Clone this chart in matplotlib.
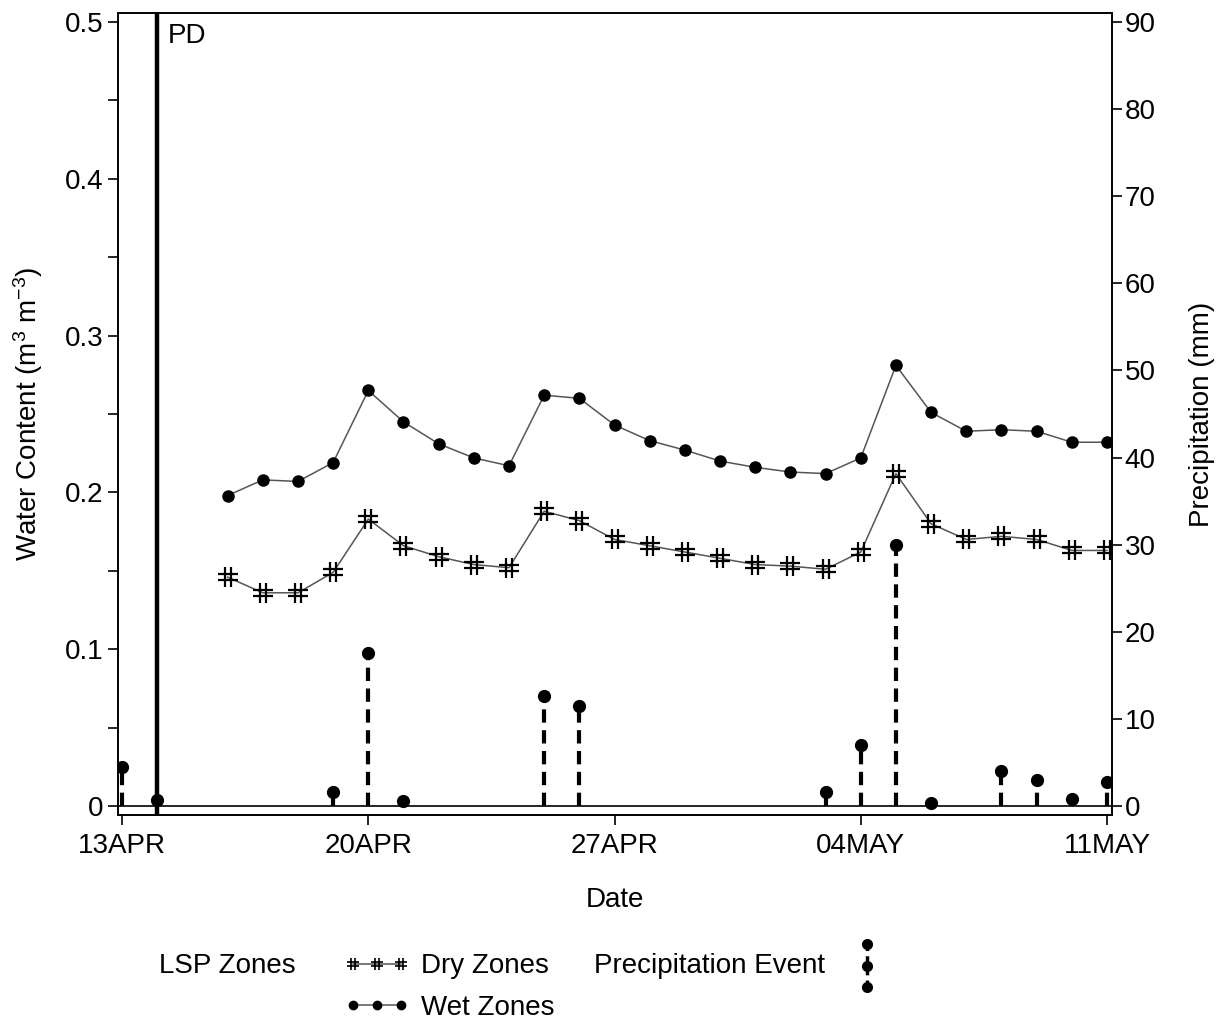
import numpy as np
import pandas as pd
import matplotlib
matplotlib.use("Agg")
import matplotlib.pyplot as plt
import matplotlib.dates as mdates
from matplotlib.path import Path
from matplotlib.lines import Line2D

plt.rcParams['font.family'] = ['Liberation Sans', 'DejaVu Sans']
plt.rcParams['mathtext.default'] = 'regular'

# data
zone_dates = pd.date_range('2015-04-16', '2015-05-11', freq='D')
dry_zones = [0.146, 0.136, 0.136, 0.149, 0.183, 0.166, 0.159, 0.154, 0.152,
             0.188, 0.182, 0.170, 0.166, 0.162, 0.158, 0.154, 0.153, 0.151,
             0.162, 0.212, 0.180, 0.170, 0.172, 0.170, 0.163, 0.163]
wet_zones = [0.198, 0.208, 0.207, 0.219, 0.265, 0.245, 0.231, 0.222, 0.217,
             0.262, 0.260, 0.243, 0.233, 0.227, 0.220, 0.216, 0.213, 0.212,
             0.222, 0.281, 0.251, 0.239, 0.240, 0.239, 0.232, 0.232]

precip_dates = pd.to_datetime(['2015-04-13', '2015-04-14', '2015-04-19', '2015-04-20',
                               '2015-04-21', '2015-04-25', '2015-04-26', '2015-05-03',
                               '2015-05-04', '2015-05-05', '2015-05-06', '2015-05-08',
                               '2015-05-09', '2015-05-10', '2015-05-11'])
precip_mm = [4.5, 0.7, 1.6, 17.6, 0.6, 12.6, 11.5, 1.6, 7.0, 30.0, 0.3, 4.0, 3.0, 0.8, 2.8]

pd_date = pd.Timestamp('2015-04-14')
tick_dates = pd.to_datetime(['2015-04-13', '2015-04-20', '2015-04-27', '2015-05-04', '2015-05-11'])
tick_labels = ['13APR', '20APR', '27APR', '04MAY', '11MAY']

FS = 20

# hash marker
hash_marker = Path(
    [(-0.3, -1), (-0.3, 1), (0.3, -1), (0.3, 1),
     (-1, -0.3), (1, -0.3), (-1, 0.3), (1, 0.3)],
    [Path.MOVETO, Path.LINETO] * 4)

fig = plt.figure(figsize=(12.26, 10.23), dpi=100)
ax = fig.add_axes([0.0963, 0.2033, 0.8107, 0.7840])
ax2 = ax.twinx()

x0 = mdates.date2num(tick_dates[0]) - 0.114
x1 = mdates.date2num(tick_dates[-1]) + 0.142
ylo, yhi = -0.0057, 0.5057

ax.plot(zone_dates, dry_zones, color='#555555', lw=1.1, marker=hash_marker,
        markersize=15, markeredgecolor='black', markerfacecolor='none',
        markeredgewidth=1.6, zorder=3)
ax.plot(zone_dates, wet_zones, color='#555555', lw=1.1, marker='o',
        markersize=8, markeredgecolor='black', markerfacecolor='black', zorder=3)
ax.axhline(0, color='black', lw=1.2, zorder=2)
ax.axvline(pd_date, color='black', lw=3.2, zorder=4)
ax.text(mdates.date2num(pd_date) + 0.3, 0.499, 'PD', fontsize=FS, va='top', ha='left')

ax2.vlines(precip_dates, 0, precip_mm, colors='black', lw=3,
           linestyles=(0, (3.2, 1.8)), zorder=3)
ax2.plot(precip_dates, precip_mm, 'o', color='black', markersize=8.5, zorder=4)

ax.set_xlim(x0, x1)
ax.set_ylim(ylo, yhi)
ax2.set_ylim(ylo * 180, yhi * 180)

ax.set_xticks(mdates.date2num(tick_dates))
ax.set_xticklabels(tick_labels)
ax.set_yticks(np.arange(0, 0.51, 0.1))
ax.set_yticklabels(['0', '0.1', '0.2', '0.3', '0.4', '0.5'])
ax.set_yticks(np.arange(0.05, 0.5, 0.1), minor=True)
ax2.set_yticks(np.arange(0, 91, 10))

for a in (ax, ax2):
    a.tick_params(axis='both', which='both', labelsize=FS, length=7, width=1.2, direction='out')
    for s in a.spines.values():
        s.set_linewidth(1.2)
ax.tick_params(axis='x', pad=6)
ax2.tick_params(axis='y', pad=2)

ax.set_xlabel('Date', fontsize=FS, labelpad=20)
ax.set_ylabel('Water Content (m$^3$ m$^{-3}$)', fontsize=FS, labelpad=14)
ax2.set_ylabel('Precipitation (mm)', fontsize=FS, rotation=90, labelpad=24)

# legend
fig.text(159 / 1226, 1 - 966 / 1023, 'LSP Zones', fontsize=FS, va='center', ha='left')
dry_h = Line2D([], [], color='#555555', lw=1.1, marker=hash_marker, markersize=8,
               markeredgecolor='black', markerfacecolor='none', markeredgewidth=1.2)
wet_h = Line2D([], [], color='#555555', lw=1.1, marker='o', markersize=6,
               markeredgecolor='black', markerfacecolor='black')
fig.legend([dry_h, wet_h], ['Dry Zones', 'Wet Zones'], loc='center left',
           bbox_to_anchor=(345 / 1226, 1 - 987 / 1023), frameon=False, fontsize=FS,
           numpoints=3, handlelength=2.3, handletextpad=0.45, labelspacing=0.55,
           borderpad=0, borderaxespad=0)
fig.text(594 / 1226, 1 - 966 / 1023, 'Precipitation Event', fontsize=FS, va='center', ha='left')
px = 867 / 1226
ys = [1 - 944 / 1023, 1 - 966 / 1023, 1 - 987 / 1023]
fig.add_artist(Line2D([px, px], [ys[2], ys[0]], transform=fig.transFigure, color='black',
                      lw=2.5, linestyle=(0, (2, 1.5))))
fig.add_artist(Line2D([px] * 3, ys, transform=fig.transFigure, color='black', lw=0,
                      marker='o', markersize=7))

fig.savefig('out.png', dpi=100)
